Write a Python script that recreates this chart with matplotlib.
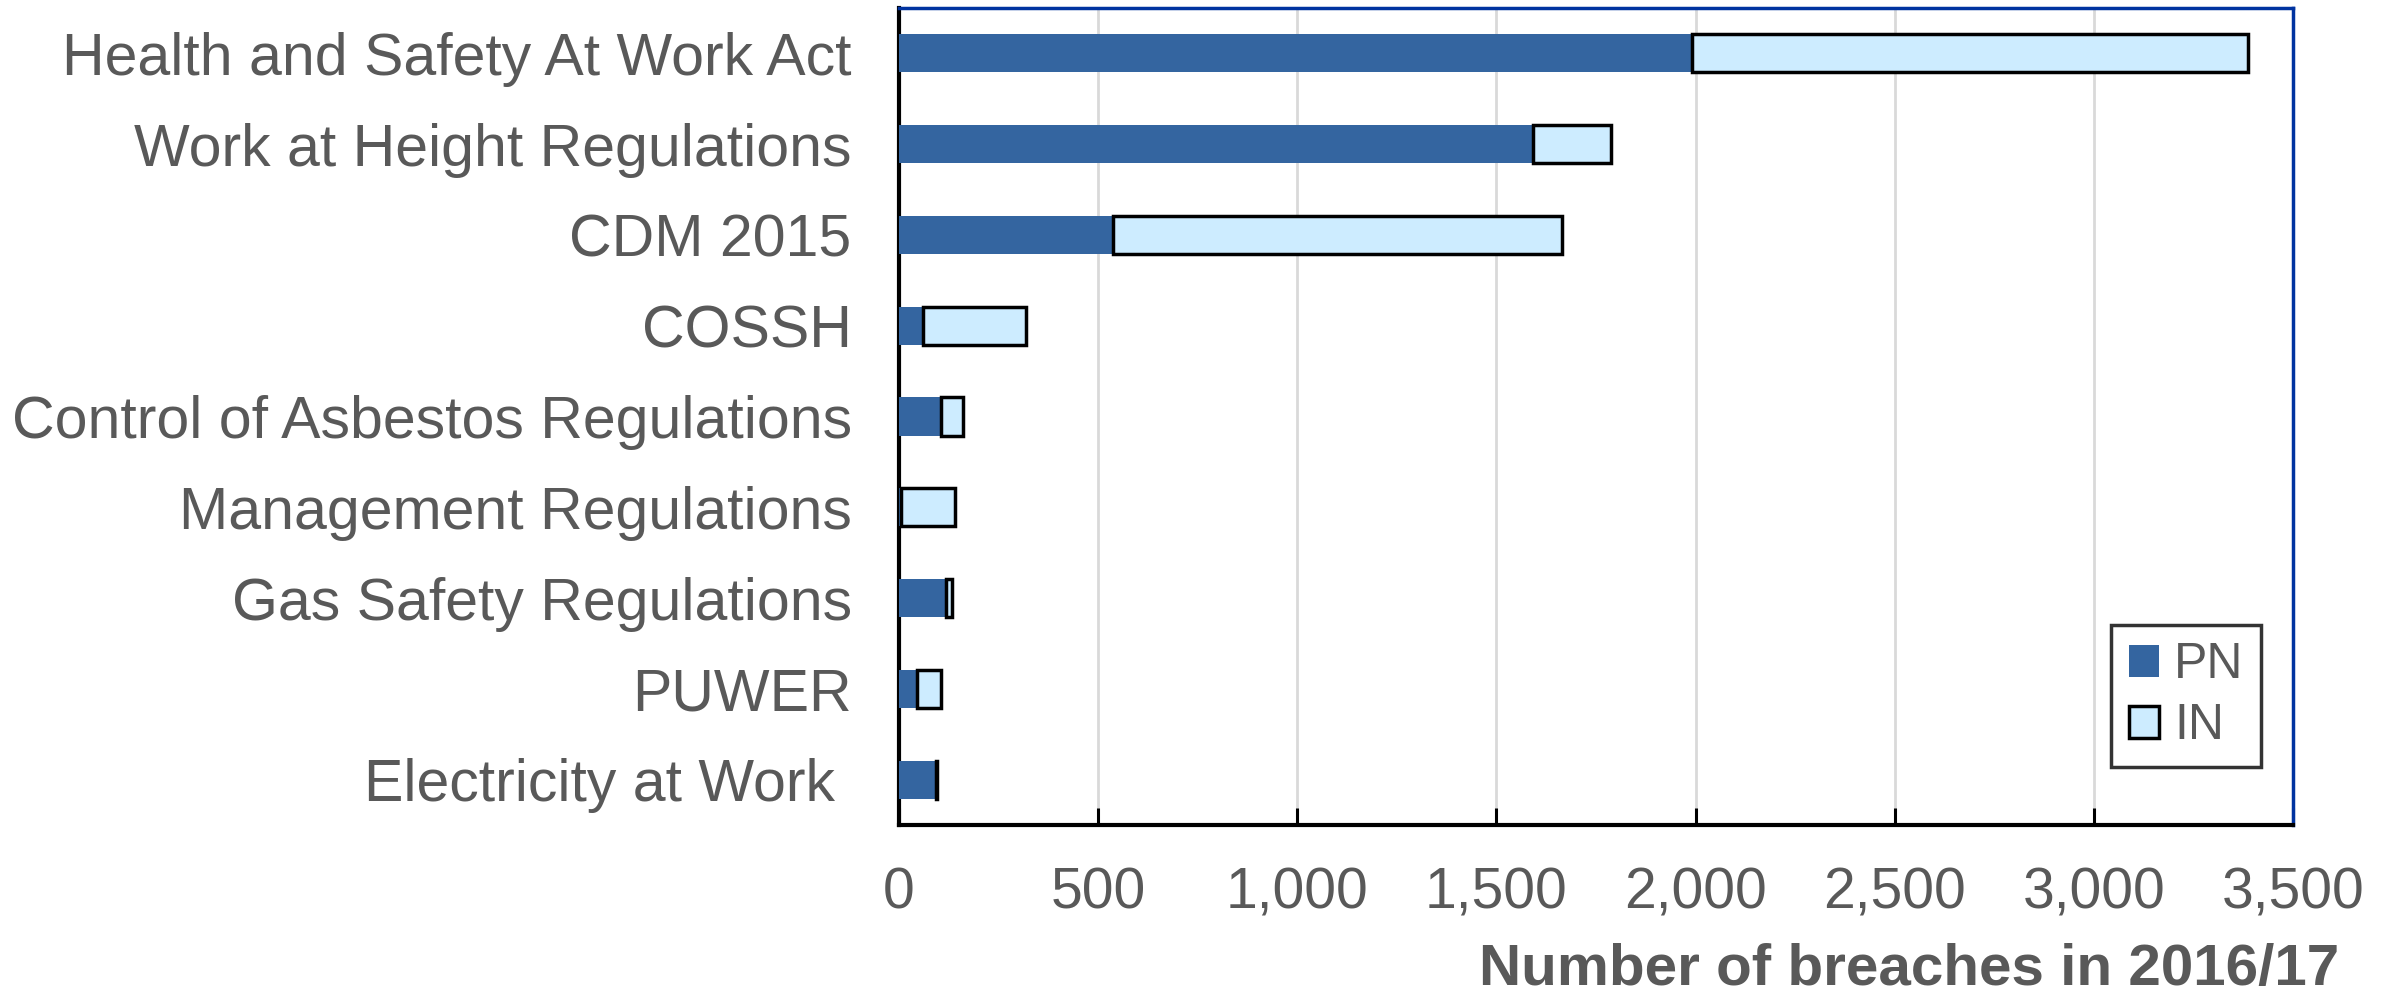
import matplotlib
matplotlib.use("Agg")
import matplotlib.pyplot as plt
import numpy as np

# categories, top to bottom as in the chart
categories = [
    "Health and Safety At Work Act",
    "Work at Height Regulations",
    "CDM 2015",
    "COSSH",
    "Control of Asbestos Regulations",
    "Management Regulations",
    "Gas Safety Regulations",
    "PUWER",
    "Electricity at Work ",
]
pn_values = [1991, 1592, 537, 60, 106, 5, 119, 46, 92]
in_values = [1397, 196, 1128, 258, 55, 136, 15, 61, 4]
x_ticks = [0, 500, 1000, 1500, 2000, 2500, 3000, 3500]

pn_color = "#3465a0"
in_color = "#cdecff"
text_color = "#595959"

plt.rcParams["font.family"] = ["Liberation Sans", "DejaVu Sans"]

fig = plt.figure(figsize=(23.97, 9.93), dpi=100)
ax = fig.add_axes([0.375, 0.1692, 0.5816, 0.8228])

y = np.arange(len(categories))
ax.barh(y, pn_values, height=0.42, color=pn_color, edgecolor="none",
        label="PN", zorder=3)
ax.barh(y, in_values, left=pn_values, height=0.42, color=in_color,
        edgecolor="black", linewidth=2.5, label="IN", zorder=3)

ax.set_ylim(len(categories) - 0.5, -0.5)
ax.set_xlim(0, 3500)
ax.set_yticks(y)
ax.set_yticklabels(categories, fontsize=42.5, color=text_color)
ax.tick_params(axis="y", length=0, pad=34)

ax.set_xticks(x_ticks)
ax.set_xticklabels([f"{t:,}" for t in x_ticks], fontsize=41, color=text_color)
ax.tick_params(axis="x", direction="in", length=12, width=2.2,
               color="black", pad=30)

ax.grid(axis="x", color="#d9d9d9", linewidth=2, zorder=0)
ax.set_axisbelow(True)

for side in ["left", "bottom"]:
    ax.spines[side].set_color("black")
    ax.spines[side].set_linewidth(3)
for side in ["top", "right"]:
    ax.spines[side].set_color("#0033a0")
    ax.spines[side].set_linewidth(2.5)

leg = ax.legend(loc="lower right", bbox_to_anchor=(0.977, 0.071),
                fontsize=36, frameon=True, fancybox=False,
                handlelength=0.6, handleheight=0.6, handletextpad=0.3,
                labelspacing=0.3, borderpad=0.35, borderaxespad=0)
leg.get_frame().set_edgecolor("black")
leg.get_frame().set_linewidth(2.5)
for t in leg.get_texts():
    t.set_color(text_color)

fig.text(0.976, -0.004, "Number of breaches in 2016/17", ha="right",
         va="bottom", fontsize=42, fontweight="bold", color=text_color)

fig.savefig("out.png", dpi=100)
